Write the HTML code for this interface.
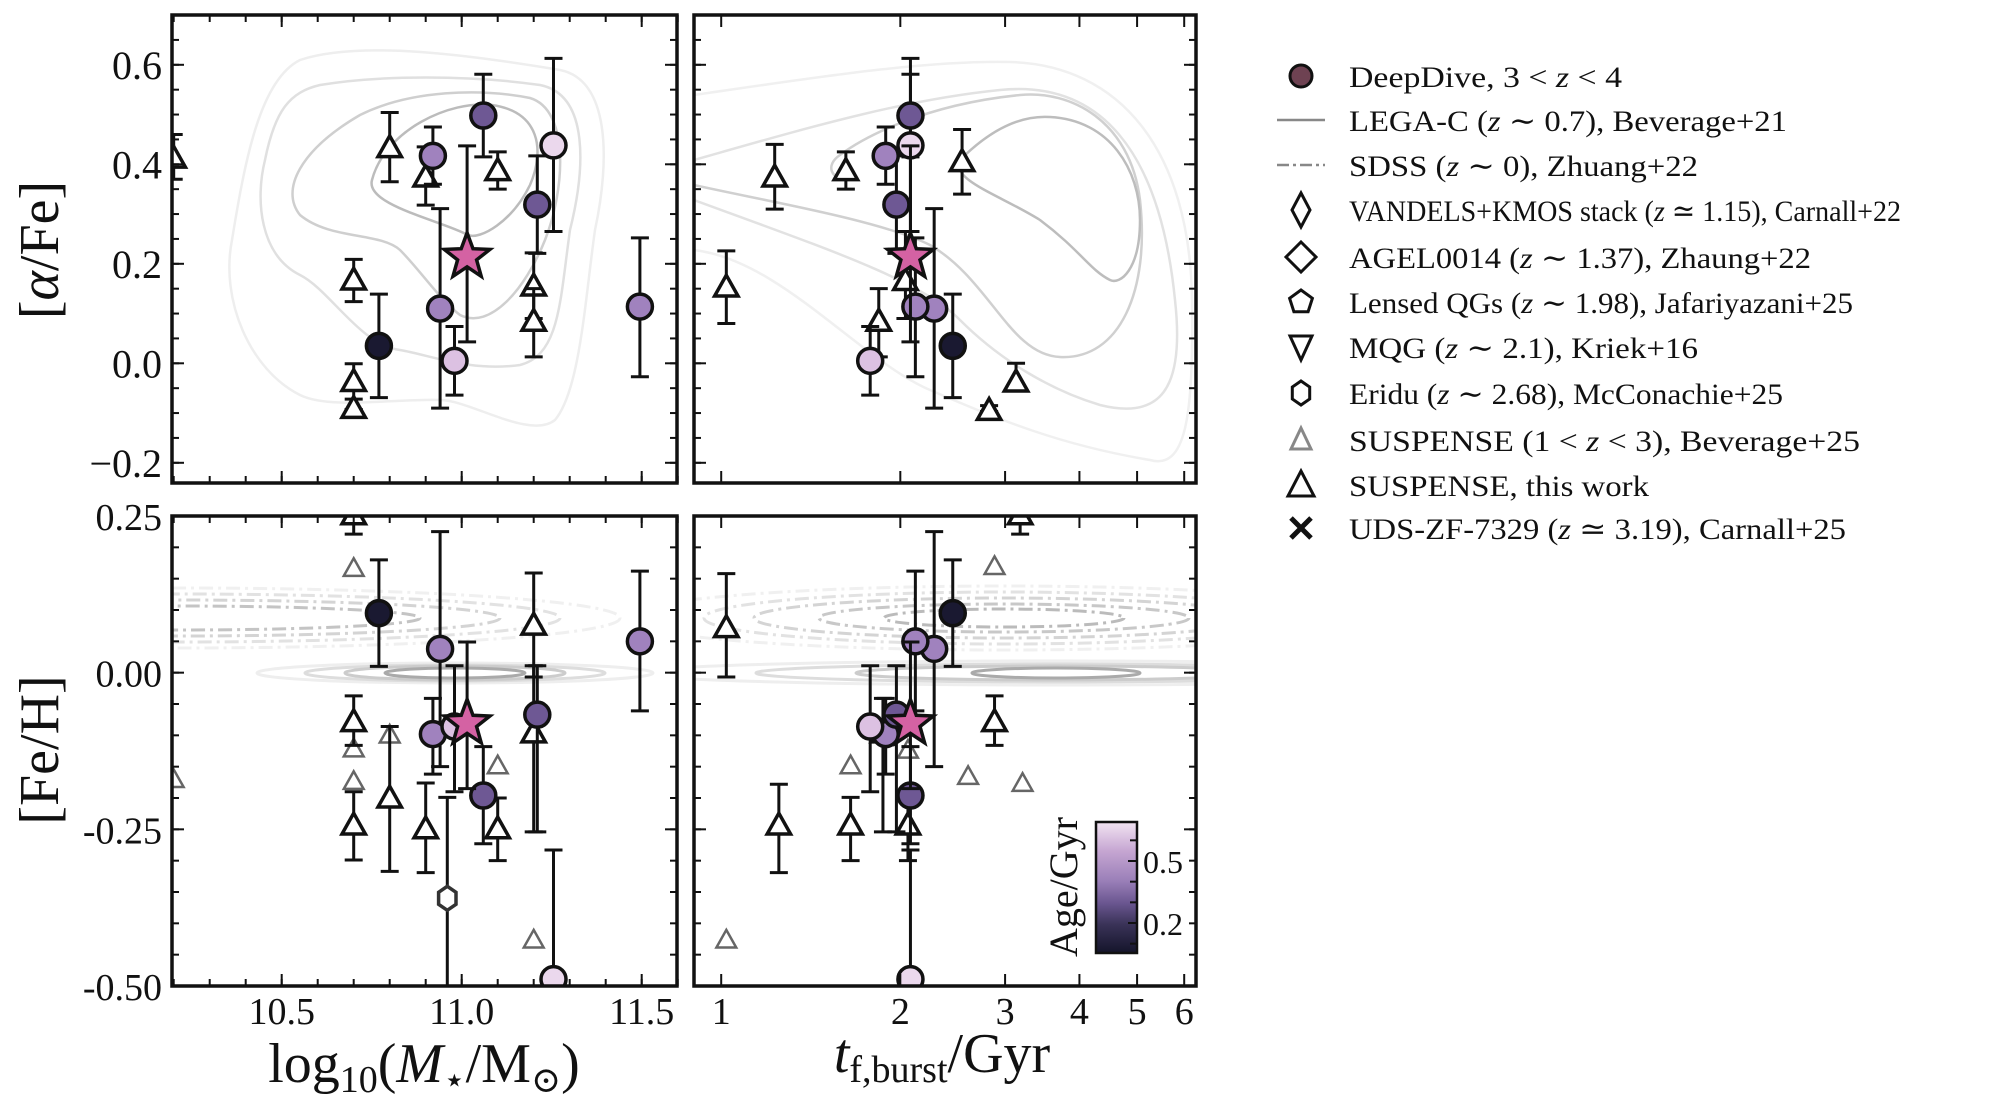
<!DOCTYPE html>
<html><head><meta charset="utf-8"><style>
html,body{margin:0;padding:0;background:#fff;}
svg{display:block;font-family:"Liberation Serif","DejaVu Serif",serif;}
</style></head><body>
<svg id="fig" width="2014" height="1102" viewBox="0 0 2014 1102" xmlns="http://www.w3.org/2000/svg">
<defs>
<clipPath id="cTL"><rect x="172" y="15" width="505" height="468"/></clipPath>
<clipPath id="cTR"><rect x="694" y="15" width="502" height="468"/></clipPath>
<clipPath id="cBL"><rect x="172" y="516" width="505" height="470"/></clipPath>
<clipPath id="cBR"><rect x="694" y="516" width="502" height="470"/></clipPath>
<linearGradient id="cmapGrad" x1="0" y1="1" x2="0" y2="0">
<stop offset="0" stop-color="#14142a"/><stop offset="0.22" stop-color="#3a3358"/><stop offset="0.38" stop-color="#6a5690"/><stop offset="0.55" stop-color="#9a7fb8"/><stop offset="0.78" stop-color="#c6a6d2"/><stop offset="1" stop-color="#f2e4f2"/>
</linearGradient>
</defs>
<g id="contours" fill="none"></g>
<g id="marks"></g>
<g id="axes"></g>
<g id="legend"></g>
</svg>
<script>
// ---- data ----
const ddMass = [10.77, 10.92, 11.06, 11.255, 11.21, 10.94, 11.495, 10.98];
const ddTf = [2.45, 1.89, 2.08, 2.08, 1.97, 2.28, 2.12, 1.78];
const ddAlpha = [0.035, 0.417, 0.498, 0.438, 0.319, 0.11, 0.114, 0.005];
const ddAlphaLo = [-0.069, 0.36, 0.415, 0.265, 0.221, -0.09, -0.027, -0.064];
const ddAlphaHi = [0.139, 0.475, 0.581, 0.613, 0.417, 0.311, 0.252, 0.074];
const ddFeh = [0.095, -0.098, -0.196, -0.489, -0.067, 0.038, 0.05, -0.086];
const ddFehLo = [0.01, -0.162, -0.273, -0.6, -0.254, -0.15, -0.061, -0.19];
const ddFehHi = [0.18, -0.041, -0.118, -0.283, 0.011, 0.225, 0.162, 0.011];
const ddAge = [0.08, 0.42, 0.3, 0.65, 0.3, 0.42, 0.42, 0.6];

const starMass = [11.015];
const starTf = [2.08];
const starAlpha = [0.214];
const starAlphaLo = [0.043];
const starAlphaHi = [0.437];
const starFeh = [-0.081];
const starFehLo = [-0.185];
const starFehHi = [0.049];

const triTLMass = [10.2, 10.8, 10.9, 11.1, 10.7, 10.7, 10.7, 11.2, 11.2];
const triTLAlpha = [0.41, 0.431, 0.372, 0.385, 0.165, -0.039, -0.093, 0.153, 0.082];
const triTLLo = [0.37, 0.365, 0.318, 0.35, 0.124, -0.072, -0.093, 0.09, 0.013];
const triTLHi = [0.46, 0.504, 0.435, 0.425, 0.209, -0.001, -0.093, 0.222, 0.15];

const triTRTf = [1.02, 1.23, 1.62, 2.54, 1.84, 2.04, 2.82, 3.13];
const triTRAlpha = [0.151, 0.372, 0.385, 0.403, 0.082, 0.164, -0.097, -0.04];
const triTRLo = [0.08, 0.31, 0.35, 0.34, 0.013, 0.09, -0.097, -0.055];
const triTRHi = [0.226, 0.44, 0.425, 0.47, 0.15, 0.265, -0.085, 0.0];

const triBLMass = [10.7, 10.7, 10.7, 10.8, 10.9, 11.1, 11.2, 11.2];
const triBLFeh = [0.25, -0.08, -0.245, -0.202, -0.251, -0.251, 0.074, -0.098];
const triBLLo = [0.221, -0.116, -0.299, -0.317, -0.319, -0.30, -0.007, -0.254];
const triBLHi = [0.27, -0.037, -0.19, -0.086, -0.176, -0.2, 0.159, 0.011];

const triBRTf = [1.02, 1.25, 1.65, 1.87, 2.06, 2.88, 3.18];
const triBRFeh = [0.07, -0.245, -0.245, -0.098, -0.245, -0.08, 0.25];
const triBRLo = [-0.007, -0.319, -0.30, -0.254, -0.30, -0.116, 0.221];
const triBRHi = [0.158, -0.178, -0.199, -0.041, -0.19, -0.037, 0.27];

const grayBLMass = [10.7, 10.7, 10.7, 10.8, 11.1, 11.2, 10.2];
const grayBLFeh = [0.165, -0.123, -0.175, -0.101, -0.15, -0.428, -0.172];
const grayBRTf = [1.02, 1.65, 2.06, 2.6, 2.88, 3.21];
const grayBRFeh = [-0.428, -0.15, -0.125, -0.167, 0.168, -0.178];

const hexMass = [10.96];
const hexFeh = [-0.36];
const hexFehLo = [-0.6];
const hexFehHi = [-0.199];

const massTicks = [10.5, 11.0, 11.5];
const massTickLabels = ["10.5", "11.0", "11.5"];
const tfTicks = [1, 2, 3, 4, 5, 6];
const tfTickLabels = ["1", "2", "3", "4", "5", "6"];
const alphaTicks = [0.6, 0.4, 0.2, 0.0, -0.2];
const alphaTickLabels = ["0.6", "0.4", "0.2", "0.0", "\u22120.2"];
const fehTicks = [0.25, 0.0, -0.25, -0.5];
const fehTickLabels = ["0.25", "0.00", "-0.25", "-0.50"];
const cbarTicks = [0.5, 0.2];
const cbarTickLabels = ["0.5", "0.2"];

// ---- scales ----
const xM = m => 281.7 + (m - 10.5) * 360;
const xT = t => 721.2 + Math.log10(t) * 595;
const yA = a => 363.3 - a * 497.5;
const yF = f => 516 + (0.25 - f) / 0.75 * 470;
const yC = a => 861 + (0.5 - a) / 0.3 * 62;

const NS = "http://www.w3.org/2000/svg";
function mk(tag, attrs, parent) {
  const e = document.createElementNS(NS, tag);
  for (const k in attrs) e.setAttribute(k, attrs[k]);
  parent.appendChild(e);
  return e;
}
const stops = [[0.066,[20,20,42]],[0.16,[58,51,88]],[0.3,[110,88,148]],[0.42,[160,130,190]],[0.55,[205,170,215]],[0.675,[242,228,242]]];
function ageColor(a) {
  if (a <= stops[0][0]) return 'rgb(' + stops[0][1].join(',') + ')';
  for (let i = 1; i < stops.length; i++) {
    if (a <= stops[i][0]) {
      const t = (a - stops[i-1][0]) / (stops[i][0] - stops[i-1][0]);
      const c = stops[i-1][1].map((v, j) => Math.round(v + t * (stops[i][1][j] - v)));
      return 'rgb(' + c.join(',') + ')';
    }
  }
  return 'rgb(' + stops[stops.length-1][1].join(',') + ')';
}

const marks = document.getElementById('marks');
const panels = {
  TL: mk('g', {'clip-path': 'url(#cTL)'}, marks),
  TR: mk('g', {'clip-path': 'url(#cTR)'}, marks),
  BL: mk('g', {'clip-path': 'url(#cBL)'}, marks),
  BR: mk('g', {'clip-path': 'url(#cBR)'}, marks)
};









function errbar(g, x, y1, y2) {
  const e = mk('g', {stroke: '#111', 'stroke-width': 3, fill: 'none'}, g);
  
  
  mk('line', {x1: x, x2: x, y1: y1, y2: y2}, e);
  mk('line', {x1: x - 9, x2: x + 9, y1: y1, y2: y1}, e);
  mk('line', {x1: x - 9, x2: x + 9, y1: y2, y2: y2}, e);
}
function tri(g, x, y, col, sw, s, name) {
  const p = mk('path', {d: `M${x},${y - s} L${x + s * 0.9},${y + s * 0.6} L${x - s * 0.9},${y + s * 0.6} Z`, fill: '#fff', stroke: col, 'stroke-width': sw, 'stroke-linejoin': 'miter'}, g);
  
  
}
function circ(g, x, y, age) {
  const c = mk('circle', {cx: x, cy: y, r: 12.5, fill: ageColor(age), stroke: '#111', 'stroke-width': 3.5}, g);
  
  
}
function star(g, x, y) {
  let d = '';
  for (let i = 0; i < 10; i++) {
    const r = i % 2 ? 10 : 24, ang = -Math.PI / 2 + i * Math.PI / 5;
    d += (i ? 'L' : 'M') + (x + r * Math.cos(ang)).toFixed(1) + ',' + (y + r * Math.sin(ang)).toFixed(1);
  }
  const s = mk('path', {d: d + 'Z', fill: '#d462a3', stroke: '#111', 'stroke-width': 3.5, 'stroke-linejoin': 'miter'}, g);
  
  
}
function hex(g, x, y) {
  let d = '';
  for (let i = 0; i < 6; i++) {
    const ang = -Math.PI / 2 + i * Math.PI / 3;
    d += (i ? 'L' : 'M') + (x + 10 * Math.cos(ang)).toFixed(1) + ',' + (y + 12 * Math.sin(ang)).toFixed(1);
  }
  const h = mk('path', {d: d + 'Z', fill: '#fff', stroke: '#333', 'stroke-width': 3.5}, g);
  
  
}

grayBLMass.forEach((m, i) => tri(panels.BL, xM(m), yF(grayBLFeh[i]), '#666', 2.5, 11, 'suspense-b25-point'));
grayBRTf.forEach((t, i) => tri(panels.BR, xT(t), yF(grayBRFeh[i]), '#666', 2.5, 11, 'suspense-b25-point'));
hexMass.forEach((m, i) => { errbar(panels.BL, xM(m), yF(hexFehLo[i]), yF(hexFehHi[i])); hex(panels.BL, xM(m), yF(hexFeh[i])); });
triTLMass.forEach((m, i) => { errbar(panels.TL, xM(m), yA(triTLLo[i]), yA(triTLHi[i])); tri(panels.TL, xM(m), yA(triTLAlpha[i]), '#111', 3.5, 13, 'suspense-point'); });
triTRTf.forEach((t, i) => { errbar(panels.TR, xT(t), yA(triTRLo[i]), yA(triTRHi[i])); tri(panels.TR, xT(t), yA(triTRAlpha[i]), '#111', 3.5, 13, 'suspense-point'); });
triBLMass.forEach((m, i) => { errbar(panels.BL, xM(m), yF(triBLLo[i]), yF(triBLHi[i])); tri(panels.BL, xM(m), yF(triBLFeh[i]), '#111', 3.5, 13, 'suspense-point'); });
triBRTf.forEach((t, i) => { errbar(panels.BR, xT(t), yF(triBRLo[i]), yF(triBRHi[i])); tri(panels.BR, xT(t), yF(triBRFeh[i]), '#111', 3.5, 13, 'suspense-point'); });
ddMass.forEach((m, i) => errbar(panels.TL, xM(m), yA(ddAlphaLo[i]), yA(ddAlphaHi[i])));
ddTf.forEach((t, i) => errbar(panels.TR, xT(t), yA(ddAlphaLo[i]), yA(ddAlphaHi[i])));
ddMass.forEach((m, i) => errbar(panels.BL, xM(m), yF(ddFehLo[i]), yF(ddFehHi[i])));
ddTf.forEach((t, i) => errbar(panels.BR, xT(t), yF(ddFehLo[i]), yF(ddFehHi[i])));
ddMass.forEach((m, i) => circ(panels.TL, xM(m), yA(ddAlpha[i]), ddAge[i]));
ddTf.forEach((t, i) => circ(panels.TR, xT(t), yA(ddAlpha[i]), ddAge[i]));
ddMass.forEach((m, i) => circ(panels.BL, xM(m), yF(ddFeh[i]), ddAge[i]));
ddTf.forEach((t, i) => circ(panels.BR, xT(t), yF(ddFeh[i]), ddAge[i]));
starMass.forEach((m, i) => { errbar(panels.TL, xM(m), yA(starAlphaLo[i]), yA(starAlphaHi[i])); star(panels.TL, xM(m), yA(starAlpha[i])); });
starTf.forEach((t, i) => { errbar(panels.TR, xT(t), yA(starAlphaLo[i]), yA(starAlphaHi[i])); star(panels.TR, xT(t), yA(starAlpha[i])); });
starMass.forEach((m, i) => { errbar(panels.BL, xM(m), yF(starFehLo[i]), yF(starFehHi[i])); star(panels.BL, xM(m), yF(starFeh[i])); });
starTf.forEach((t, i) => { errbar(panels.BR, xT(t), yF(starFehLo[i]), yF(starFehHi[i])); star(panels.BR, xT(t), yF(starFeh[i])); });

// ---- contours (decorative) ----
const cg = document.getElementById('contours');
const cTL = mk('g', {'clip-path': 'url(#cTL)', 'stroke-width': 2.5, fill: 'none'}, cg);


[
 ['#eeeeee', 'M300,60 C360,40 470,55 560,70 C610,80 610,160 595,230 C585,300 580,390 555,420 C530,440 470,400 440,400 C400,398 330,410 300,395 C250,370 220,300 232,240 C245,160 260,80 300,60 Z'],
 ['#e0e0e0', 'M320,85 C380,75 470,75 540,85 C590,95 585,170 570,230 C560,300 560,355 520,365 C470,372 430,355 400,350 C360,345 330,290 300,275 C260,255 255,200 265,160 C275,110 290,92 320,85 Z'],
 ['#cfcfcf', 'M360,115 C410,90 480,88 530,98 C570,110 565,190 545,240 C525,290 490,330 460,315 C440,300 420,270 400,250 C380,232 330,240 300,215 C280,190 300,150 360,115 Z'],
 ['#bcbcbc', 'M372,180 C385,130 450,100 492,105 C540,112 545,150 530,185 C512,222 480,240 468,235 C440,220 365,205 372,180 Z']
].forEach(([c, d]) => mk('path', {d: d, stroke: c}, cTL));
const cTR = mk('g', {'clip-path': 'url(#cTR)', 'stroke-width': 2.5, fill: 'none'}, cg);


[
 ['#f0f0f0', 'M694,95 C800,80 920,60 1010,62 C1120,65 1190,150 1192,300 C1194,420 1185,470 1150,460 C1060,445 1000,420 930,390 C860,360 780,260 694,250'],
 ['#e2e2e2', 'M694,160 C800,130 900,100 1000,90 C1100,80 1160,150 1175,300 C1185,390 1160,420 1100,405 C1050,390 1000,360 960,320 C920,280 830,250 694,200'],
 ['#d0d0d0', 'M694,185 C760,200 880,220 930,245 C990,280 1010,355 1060,357 C1120,360 1150,290 1140,200 C1130,120 1070,90 1020,95 C920,105 860,140 840,155 C825,165 830,180 850,180'],
 ['#bdbdbd', 'M960,160 C990,130 1020,115 1050,117 C1110,120 1140,170 1140,220 C1140,270 1120,285 1110,280 C1090,270 1080,250 1040,220 C1000,195 950,180 960,160 Z']
].forEach(([c, d]) => mk('path', {d: d, stroke: c}, cTR));
const cBL = mk('g', {'clip-path': 'url(#cBL)', fill: 'none'}, cg);


[[198, 10, '#eeeeee'], [150, 8, '#dddddd'], [110, 7, '#cccccc'], [70, 5, '#aaaaaa']].forEach(([rx, ry, c]) => mk('ellipse', {cx: 455, cy: 673, rx: rx, ry: ry, stroke: c, 'stroke-width': 3}, cBL));
[[440, 30, '#f0f0f0'], [380, 24, '#e2e2e2'], [320, 18, '#d4d4d4'], [240, 12, '#c4c4c4']].forEach(([rx, ry, c]) => mk('ellipse', {cx: 180, cy: 618, rx: rx, ry: ry, stroke: c, 'stroke-width': 3, 'stroke-dasharray': '14,5,3,5'}, cBL));
const cBR = mk('g', {'clip-path': 'url(#cBR)', fill: 'none'}, cg);


[[420, 12, '#eeeeee'], [300, 9, '#dddddd'], [200, 7, '#cccccc'], [84, 5, '#aaaaaa']].forEach(([rx, ry, c]) => mk('ellipse', {cx: 1056, cy: 673, rx: rx, ry: ry, stroke: c, 'stroke-width': 3}, cBR));
[[380, 32, '#f0f0f0'], [300, 26, '#e2e2e2'], [250, 20, '#d4d4d4'], [185, 14, '#c8c8c8'], [120, 9, '#bbbbbb']].forEach(([rx, ry, c]) => mk('ellipse', {cx: 1004, cy: 618, rx: rx, ry: ry, stroke: c, 'stroke-width': 3, 'stroke-dasharray': '14,5,3,5'}, cBR));

// ---- axes ----
const ax = document.getElementById('axes');
function frame(x, y, w, h, name) {
  const r = mk('rect', {x: x, y: y, width: w, height: h, fill: 'none', stroke: '#111', 'stroke-width': 3.5}, ax);
  
  
}
function tickX(xs, y0, y1, len) {
  xs.forEach(x => { mk('line', {x1: x, x2: x, y1: y0, y2: y0 + len, stroke: '#111', 'stroke-width': 2}, ax); mk('line', {x1: x, x2: x, y1: y1, y2: y1 - len, stroke: '#111', 'stroke-width': 2}, ax); });
}
function tickY(ys, x0, x1, len) {
  ys.forEach(y => { mk('line', {x1: x0, x2: x0 + len, y1: y, y2: y, stroke: '#111', 'stroke-width': 2}, ax); mk('line', {x1: x1, x2: x1 - len, y1: y, y2: y, stroke: '#111', 'stroke-width': 2}, ax); });
}
function txt(x, y, s, size, anchor, name, extra) {
  const t = mk('text', Object.assign({x: x, y: y, 'font-size': size, 'text-anchor': anchor, fill: '#111'}, extra || {}), ax);
  t.textContent = s;
  
  
  return t;
}
const minorMass = []; for (let m = 10.2; m < 11.61; m += 0.1) minorMass.push(xM(m));
const minorA = []; for (let a = -0.2; a < 0.71; a += 0.05) minorA.push(yA(a));
const minorF = []; for (let f = -0.5; f < 0.26; f += 0.05) minorF.push(yF(f));
tickX(minorMass, 15, 483, 7); tickX(massTicks.map(xM), 15, 483, 12);
tickY(minorA.filter(y => y > 15 && y < 483), 172, 677, 7); tickY(alphaTicks.map(yA), 172, 677, 12);
tickX(tfTicks.map(xT), 15, 483, 12);
tickY(minorA.filter(y => y > 15 && y < 483), 694, 1196, 7); tickY(alphaTicks.map(yA), 694, 1196, 12);
tickX(minorMass, 516, 986, 7); tickX(massTicks.map(xM), 516, 986, 12);
tickY(minorF, 172, 677, 7); tickY(fehTicks.map(yF), 172, 677, 12);
tickX(tfTicks.map(xT), 516, 986, 12);
tickY(minorF, 694, 1196, 7); tickY(fehTicks.map(yF), 694, 1196, 12);
frame(172, 15, 505, 468, 'top-left-axes');
frame(694, 15, 502, 468, 'top-right-axes');
frame(172, 516, 505, 470, 'bottom-left-axes');
frame(694, 516, 502, 470, 'bottom-right-axes');

alphaTicks.forEach((a, i) => txt(162, yA(a) + 14, alphaTickLabels[i], 40, 'end', 'y-tick-label'));
fehTicks.forEach((f, i) => txt(162, yF(f) + 14, fehTickLabels[i], 38, 'end', 'y-tick-label'));
massTicks.forEach((m, i) => txt(xM(m), 1024, massTickLabels[i], 38, 'middle', 'x-tick-label'));
tfTicks.forEach((t, i) => txt(xT(t), 1024, tfTickLabels[i], 38, 'middle', 'x-tick-label'));

const ya = txt(0, 0, '', 56, 'middle', 'y-axis-title-alpha-fe', {transform: 'translate(58,250) rotate(-90)'});
ya.innerHTML = '[<tspan font-style="italic">α</tspan>/Fe]';
txt(0, 0, '[Fe/H]', 56, 'middle', 'y-axis-title-fe-h', {transform: 'translate(58,750) rotate(-90)'});
const xl = txt(424, 1082, '', 56, 'middle', 'x-axis-title-mass');
xl.innerHTML = 'log<tspan font-size="38" dy="10">10</tspan><tspan dy="-10">(</tspan><tspan font-style="italic">M</tspan><tspan font-size="36" dy="10">⋆</tspan><tspan dy="-10">/M</tspan><tspan font-size="36" dy="10">⊙</tspan><tspan dy="-10">)</tspan>';
const xr = txt(942, 1072, '', 56, 'middle', 'x-axis-title-tform');
xr.innerHTML = '<tspan font-style="italic">t</tspan><tspan font-size="38" dy="10">f,burst</tspan><tspan dy="-10">/Gyr</tspan>';

const cb = mk('rect', {x: 1096, y: 822, width: 41, height: 131, fill: 'url(#cmapGrad)', stroke: '#111', 'stroke-width': 2.5}, ax);


const cbMinor = [0.1, 0.2, 0.3, 0.4, 0.5, 0.6];
cbMinor.forEach(a => mk('line', {x1: 1137, x2: 1130, y1: yC(a), y2: yC(a), stroke: '#111', 'stroke-width': 2}, ax));
cbarTicks.forEach((a, i) => { mk('line', {x1: 1137, x2: 1128, y1: yC(a), y2: yC(a), stroke: '#111', 'stroke-width': 2}, ax); txt(1143, yC(a) + 12, cbarTickLabels[i], 32, 'start', 'colorbar-tick-label'); });
txt(0, 0, 'Age/Gyr', 40, 'middle', 'colorbar-title', {transform: 'translate(1077,887) rotate(-90)'});

// ---- legend ----
const lg = document.getElementById('legend');


const rows = [76, 120, 165, 210, 257, 302, 347, 393, 440, 485, 528];
const labels = [
 'DeepDive, 3 &lt; <tspan font-style="italic">z</tspan> &lt; 4',
 'LEGA-C (<tspan font-style="italic">z</tspan> ∼ 0.7), Beverage+21',
 'SDSS (<tspan font-style="italic">z</tspan> ∼ 0), Zhuang+22',
 'VANDELS+KMOS stack (<tspan font-style="italic">z</tspan> ≃ 1.15), Carnall+22',
 'AGEL0014 (<tspan font-style="italic">z</tspan> ∼ 1.37), Zhaung+22',
 'Lensed QGs (<tspan font-style="italic">z</tspan> ∼ 1.98), Jafariyazani+25',
 'MQG (<tspan font-style="italic">z</tspan> ∼ 2.1), Kriek+16',
 'Eridu (<tspan font-style="italic">z</tspan> ∼ 2.68), McConachie+25',
 'SUSPENSE (1 &lt; <tspan font-style="italic">z</tspan> &lt; 3), Beverage+25',
 'SUSPENSE, this work',
 'UDS-ZF-7329 (<tspan font-style="italic">z</tspan> ≃ 3.19), Carnall+25'
];
const widths = [273, 438, 349, 552, 462, 504, 349, 434, 511, 300, 497];
const mx = 1301;
labels.forEach((l, i) => {
  const t = mk('text', {x: 1349, y: rows[i] + 11, 'font-size': 30, fill: '#111', textLength: widths[i], lengthAdjust: 'spacingAndGlyphs'}, lg);
  t.innerHTML = l;
  
  
});
const lm = mk('g', {fill: '#fff', stroke: '#111', 'stroke-width': 3}, lg);


mk('circle', {cx: mx, cy: rows[0], r: 11, fill: '#6e4252', stroke: '#111', 'stroke-width': 3}, lm);
mk('line', {x1: mx - 24, x2: mx + 24, y1: rows[1], y2: rows[1], stroke: '#888', 'stroke-width': 2.5}, lm);
mk('line', {x1: mx - 24, x2: mx + 24, y1: rows[2], y2: rows[2], stroke: '#888', 'stroke-width': 2.5, 'stroke-dasharray': '12,4,3,4'}, lm);
mk('path', {d: `M${mx},${rows[3] - 17} L${mx + 9},${rows[3]} L${mx},${rows[3] + 17} L${mx - 9},${rows[3]} Z`}, lm);
mk('path', {d: `M${mx},${rows[4] - 15} L${mx + 15},${rows[4]} L${mx},${rows[4] + 15} L${mx - 15},${rows[4]} Z`}, lm);
let pd = ''; for (let i = 0; i < 5; i++) { const a = -Math.PI / 2 + i * 2 * Math.PI / 5; pd += (i ? 'L' : 'M') + (mx + 12 * Math.cos(a)).toFixed(1) + ',' + (rows[5] + 12 * Math.sin(a)).toFixed(1); }
mk('path', {d: pd + 'Z'}, lm);
mk('path', {d: `M${mx - 11},${rows[6] - 11} L${mx + 11},${rows[6] - 11} L${mx},${rows[6] + 13} Z`}, lm);
let hd = ''; for (let i = 0; i < 6; i++) { const a = -Math.PI / 2 + i * Math.PI / 3; hd += (i ? 'L' : 'M') + (mx + 10 * Math.cos(a)).toFixed(1) + ',' + (rows[7] + 12 * Math.sin(a)).toFixed(1); }
mk('path', {d: hd + 'Z'}, lm);
mk('path', {d: `M${mx},${rows[8] - 12} L${mx + 10},${rows[8] + 9} L${mx - 10},${rows[8] + 9} Z`, stroke: '#888'}, lm);
mk('path', {d: `M${mx},${rows[9] - 14} L${mx + 13},${rows[9] + 11} L${mx - 13},${rows[9] + 11} Z`}, lm);
mk('path', {d: `M${mx - 10},${rows[10] - 10} L${mx + 10},${rows[10] + 10} M${mx + 10},${rows[10] - 10} L${mx - 10},${rows[10] + 10}`, 'stroke-width': 5}, lm);
</script>
</body></html>
